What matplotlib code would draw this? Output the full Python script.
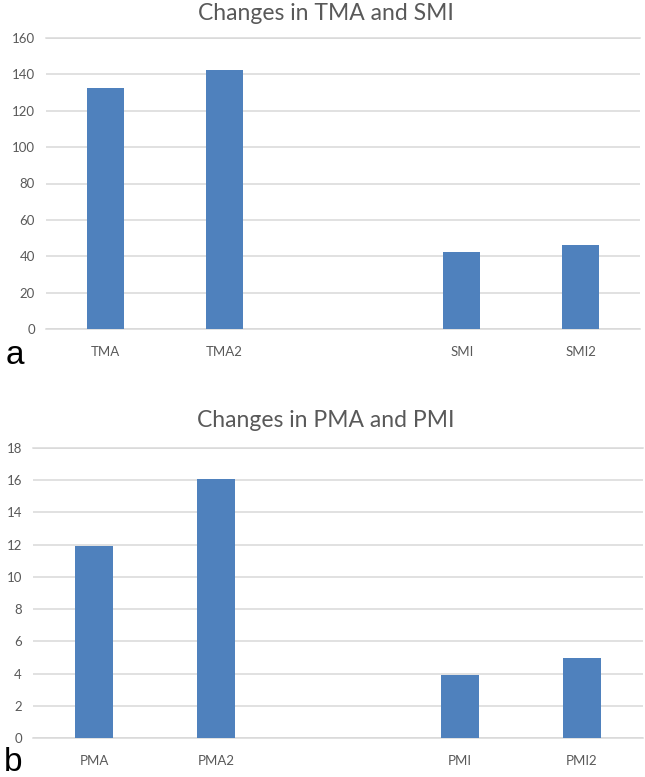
import matplotlib
matplotlib.use("Agg")
import matplotlib.pyplot as plt

# ---- data ----
top_categories = ["TMA", "TMA2", "", "SMI", "SMI2"]
top_values = [132.5, 142.5, 0, 42.5, 46.2]
top_title = "Changes in TMA and SMI"
top_yticks = [0, 20, 40, 60, 80, 100, 120, 140, 160]

bottom_categories = ["PMA", "PMA2", "", "PMI", "PMI2"]
bottom_values = [11.9, 16.05, 0, 3.9, 4.95]
bottom_title = "Changes in PMA and PMI"
bottom_yticks = [0, 2, 4, 6, 8, 10, 12, 14, 16, 18]

BAR_COLOR = "#4F81BD"
GRID_COLOR = "#D9D9D9"
TEXT_COLOR = "#595959"
FONT = ["Lato", "DejaVu Sans"]

W, H = 645, 777
fig = plt.figure(figsize=(W / 100, H / 100), dpi=100)


def add_panel(rect_px, cats, vals, title, yticks, letter, letter_xy, title_y):
    l, t, r, b = rect_px
    ax = fig.add_axes([l / W, 1 - b / H, (r - l) / W, (b - t) / H])
    x = list(range(len(cats)))
    heights = [v if c else 0 for c, v in zip(cats, vals)]
    ax.bar(x, heights, width=0.31, color=BAR_COLOR, zorder=3)
    ax.set_xlim(-0.5, len(cats) - 0.5)
    ax.set_ylim(yticks[0], yticks[-1])
    ax.set_yticks(yticks)
    ax.set_xticks(x)
    ax.set_xticklabels(cats)
    for s in ax.spines.values():
        s.set_visible(False)
    ax.grid(axis="y", color=GRID_COLOR, linewidth=1.1, zorder=0)
    ax.set_axisbelow(True)
    ax.tick_params(axis="both", length=0, colors=TEXT_COLOR, labelsize=9.5)
    ax.tick_params(axis="x", pad=12)
    ax.tick_params(axis="y", pad=8)
    for lab in ax.get_xticklabels() + ax.get_yticklabels():
        lab.set_family(FONT)
    # ensure gridline at top is drawn
    ax.axhline(yticks[-1], color=GRID_COLOR, linewidth=1.1, zorder=0, clip_on=False)
    ax.axhline(yticks[0], color=GRID_COLOR, linewidth=1.1, zorder=0, clip_on=False)
    fig.text(326 / W, 1 - title_y / H, title, ha="center", va="center",
             fontsize=16.5, color=TEXT_COLOR, family=FONT)
    fig.text(letter_xy[0] / W, 1 - letter_xy[1] / H, letter, ha="left",
             va="baseline", fontsize=24, color="black",
             family=["Liberation Sans", "DejaVu Sans"])
    return ax


add_panel((46, 38, 640, 329), top_categories, top_values, top_title,
          top_yticks, "a", (6, 364), 14)
add_panel((33, 448, 643, 738), bottom_categories, bottom_values, bottom_title,
          bottom_yticks, "b", (4, 771), 421)

fig.savefig("out.png", dpi=100, facecolor="white")
